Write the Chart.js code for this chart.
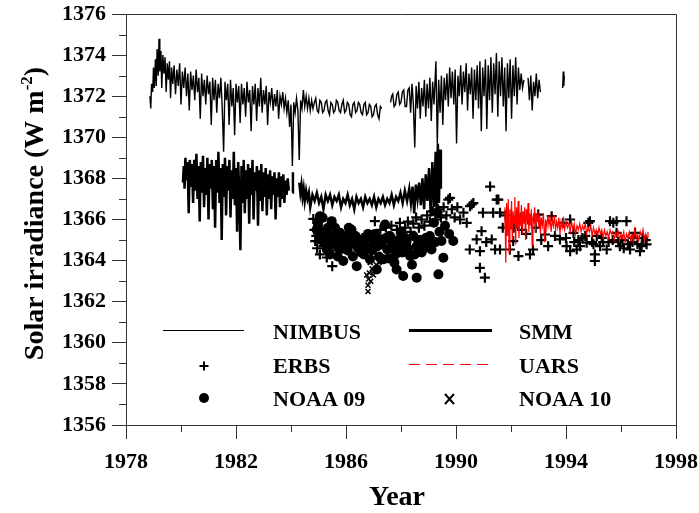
<!DOCTYPE html>
<html>
<head>
<meta charset="utf-8">
<script src="https://cdn.jsdelivr.net/npm/chart.js@4/dist/chart.umd.min.js"></script>
<style>
html,body{margin:0;padding:0;background:#fff;}
canvas{display:block;}
</style>
</head>
<body>
<canvas id="c" width="699" height="513"></canvas>
<script>
// ---------- data ----------
const xTickLabels = ['1978','1982','1986','1990','1994','1998'];
const yTickLabels = ['1356','1358','1360','1362','1364','1366','1368','1370','1372','1374','1376'];
const seriesNames = ['NIMBUS','SMM','ERBS','UARS','NOAA 09','NOAA 10'];

const nimbus = [
[1978.87,1372.0],[1978.90,1371.4],[1978.93,1372.6],[1978.97,1372.2],[1979.00,1373.4],[1979.03,1372.4],[1979.07,1373.8],[1979.10,1372.5],
[1979.13,1374.3],[1979.17,1373.0],[1979.20,1374.8],[1979.23,1373.2],[1979.27,1374.2],[1979.30,1372.4],[1979.34,1374.0],[1979.38,1373.1],
[1979.42,1373.9],[1979.46,1372.2],[1979.50,1373.6],[1979.54,1372.8],[1979.58,1373.7],[1979.62,1371.9],[1979.66,1373.4],[1979.70,1372.6],
[1979.75,1373.5],[1979.80,1372.1],[1979.85,1373.3],[1979.90,1372.5],[1979.95,1373.6],[1980.00,1371.6],[1980.05,1373.2],[1980.10,1372.4],
[1980.15,1373.4],[1980.20,1372.0],[1980.25,1373.1],[1980.30,1371.3],[1980.35,1373.2],[1980.40,1372.3],[1980.45,1373.0],[1980.50,1371.8],
[1980.55,1373.3],[1980.60,1372.2],[1980.65,1372.9],[1980.70,1370.9],[1980.75,1373.1],[1980.80,1372.0],[1980.85,1372.8],[1980.90,1371.6],
[1980.95,1373.0],[1981.00,1372.1],[1981.05,1372.7],[1981.10,1370.6],[1981.15,1372.9],[1981.20,1371.8],[1981.25,1372.8],[1981.30,1371.2],
[1981.35,1372.6],[1981.40,1371.9],[1981.45,1372.9],[1981.50,1371.4],[1981.55,1369.3],[1981.60,1372.7],[1981.65,1371.8],[1981.70,1372.6],
[1981.75,1370.6],[1981.80,1372.8],[1981.85,1371.5],[1981.90,1372.4],[1981.95,1370.1],[1982.00,1372.6],[1982.05,1371.7],[1982.10,1372.5],
[1982.15,1370.7],[1982.20,1372.6],[1982.25,1371.6],[1982.30,1372.4],[1982.35,1371.0],[1982.40,1372.7],[1982.45,1371.7],[1982.50,1372.3],
[1982.55,1370.3],[1982.60,1372.5],[1982.65,1371.6],[1982.70,1372.6],[1982.75,1370.8],[1982.80,1372.4],[1982.85,1371.5],[1982.90,1372.9],
[1982.95,1371.2],[1983.00,1372.3],[1983.05,1371.6],[1983.10,1372.5],[1983.15,1370.6],[1983.20,1372.2],[1983.25,1371.7],[1983.30,1372.4],
[1983.35,1371.3],[1983.40,1372.1],[1983.45,1371.5],[1983.50,1372.3],[1983.55,1370.9],[1983.60,1372.0],[1983.65,1371.6],[1983.70,1372.2],
[1983.75,1371.4],[1983.80,1371.9],[1983.85,1371.2],[1983.90,1371.8],[1983.95,1370.5],[1984.00,1371.6],[1984.05,1368.6],[1984.10,1371.7],
[1984.15,1371.2],[1984.20,1371.9],[1984.25,1371.3],[1984.30,1368.9],[1984.35,1371.8],[1984.40,1371.4],[1984.45,1372.3],[1984.50,1371.5],
[1984.55,1372.0],[1984.60,1371.4],[1984.65,1371.9],[1984.70,1371.3],[1984.75,1371.8],[1984.80,1371.4],[1984.85,1371.7],[1984.90,1371.9],
[1984.95,1371.3],[1985.00,1371.2],[1985.05,1371.8],[1985.10,1371.7],[1985.15,1371.2],[1985.20,1371.3],[1985.25,1371.7],[1985.30,1371.8],
[1985.35,1371.3],[1985.40,1371.1],[1985.45,1371.7],[1985.50,1371.6],[1985.55,1371.2],[1985.60,1371.3],[1985.65,1371.8],[1985.70,1371.7],
[1985.75,1371.3],[1985.80,1371.2],[1985.85,1371.6],[1985.90,1371.8],[1985.95,1371.2],[1986.00,1371.3],[1986.05,1371.7],[1986.10,1371.6],
[1986.15,1371.1],[1986.20,1371.0],[1986.25,1371.6],[1986.30,1371.7],[1986.35,1371.2],[1986.40,1371.3],[1986.45,1371.7],[1986.50,1371.6],
[1986.55,1371.2],[1986.60,1371.1],[1986.65,1371.6],[1986.70,1371.7],[1986.75,1371.1],[1986.80,1371.2],[1986.85,1371.6],[1986.90,1371.5],
[1986.95,1371.0],[1987.00,1371.1],[1987.05,1371.5],[1987.10,1371.6],[1987.15,1371.1],[1987.20,1370.9],[1987.25,1371.5],[1987.30,1371.4],
[1987.45,null],
[1987.62,1371.7],[1987.66,1372.0],[1987.70,1372.1],[1987.75,1371.5],[1987.80,1371.6],[1987.85,1372.1],[1987.90,1372.2],[1987.95,1371.6],
[1988.00,1371.7],[1988.05,1372.2],[1988.10,1372.3],[1988.15,1371.5],[1988.20,1371.5],[1988.25,1372.3],[1988.30,1372.4],
[1988.35,1371.2],[1988.40,1372.6],[1988.45,1371.6],[1988.50,1369.5],[1988.55,1372.5],[1988.60,1371.4],[1988.65,1372.7],[1988.70,1370.9],
[1988.75,1372.4],[1988.80,1371.5],[1988.85,1372.8],[1988.90,1371.0],[1988.95,1372.6],[1989.00,1371.4],[1989.05,1372.9],[1989.10,1370.8],
[1989.15,1372.7],[1989.20,1371.6],[1989.27,1373.7],[1989.32,1369.7],[1989.37,1372.8],[1989.42,1371.2],[1989.47,1373.0],[1989.52,1370.6],
[1989.57,1372.9],[1989.62,1371.8],[1989.67,1373.1],[1989.72,1371.5],[1989.77,1373.4],[1989.82,1371.9],[1989.87,1373.2],[1989.92,1371.6],
[1989.97,1373.3],[1990.02,1369.7],[1990.07,1373.0],[1990.12,1372.0],[1990.17,1373.5],[1990.22,1371.6],[1990.27,1373.2],[1990.32,1372.2],
[1990.37,1373.6],[1990.42,1371.3],[1990.47,1373.1],[1990.52,1372.1],[1990.57,1373.4],[1990.62,1370.9],[1990.67,1373.3],[1990.72,1371.8],
[1990.77,1373.5],[1990.82,1371.4],[1990.87,1373.7],[1990.92,1370.3],[1990.97,1373.4],[1991.02,1372.0],[1991.07,1373.8],[1991.12,1370.4],
[1991.17,1373.5],[1991.22,1371.8],[1991.27,1373.9],[1991.32,1371.2],[1991.37,1373.6],[1991.42,1372.1],[1991.47,1374.1],[1991.52,1371.0],
[1991.57,1373.7],[1991.62,1372.0],[1991.67,1373.9],[1991.72,1371.5],[1991.77,1373.4],[1991.82,1370.3],[1991.87,1373.6],[1991.92,1371.9],
[1991.97,1373.8],[1992.02,1370.9],[1992.07,1373.5],[1992.12,1372.0],[1992.17,1373.9],[1992.22,1371.6],[1992.27,1373.4],[1992.32,1372.3],
[1992.37,1373.1],[1992.42,1372.4],[1992.47,1372.8],[1992.55,null],[1992.62,1372.9],[1992.67,1371.8],[1992.72,1373.0],[1992.77,1371.3],
[1992.82,1372.7],[1992.87,1372.0],[1992.92,1373.1],[1992.97,1371.9],[1993.02,1372.8],[1993.07,1372.2],[1993.50,null],
[1993.88,1372.4],[1993.90,1373.2],[1993.92,1372.5],[1993.94,1373.0]
];

const smm = [
[1980.07,1367.8],[1980.10,1368.6],[1980.13,1367.5],[1980.16,1369.0],[1980.20,1367.9],[1980.24,1368.8],[1980.28,1366.3],[1980.32,1368.9],
[1980.36,1367.6],[1980.40,1368.7],[1980.44,1366.8],[1980.48,1368.9],[1980.52,1367.4],[1980.56,1369.2],[1980.60,1367.0],[1980.64,1368.6],
[1980.68,1365.9],[1980.72,1368.8],[1980.76,1367.3],[1980.80,1369.1],[1980.84,1366.6],[1980.88,1368.5],[1980.92,1367.2],[1980.96,1369.0],
[1981.00,1366.0],[1981.04,1368.7],[1981.08,1367.5],[1981.12,1368.9],[1981.16,1366.5],[1981.20,1368.6],[1981.24,1365.6],[1981.28,1368.9],
[1981.32,1367.3],[1981.36,1369.3],[1981.40,1366.8],[1981.44,1368.5],[1981.48,1365.0],[1981.52,1368.7],[1981.56,1367.1],[1981.60,1369.0],
[1981.64,1366.2],[1981.68,1368.6],[1981.72,1367.4],[1981.76,1368.9],[1981.80,1366.1],[1981.84,1368.4],[1981.88,1367.0],[1981.92,1369.3],
[1981.96,1366.7],[1982.00,1368.5],[1982.04,1365.4],[1982.08,1368.8],[1982.12,1367.2],[1982.16,1364.5],[1982.20,1368.6],[1982.24,1366.8],
[1982.28,1368.9],[1982.32,1366.3],[1982.36,1368.4],[1982.40,1367.0],[1982.44,1368.7],[1982.48,1365.8],[1982.52,1368.5],[1982.56,1367.2],
[1982.60,1368.9],[1982.64,1366.0],[1982.68,1368.3],[1982.72,1367.4],[1982.76,1368.6],[1982.80,1365.7],[1982.84,1368.4],[1982.88,1366.9],
[1982.92,1368.7],[1982.96,1366.4],[1983.00,1368.3],[1983.04,1367.1],[1983.08,1368.5],[1983.12,1366.2],[1983.16,1368.2],[1983.20,1367.0],
[1983.24,1368.4],[1983.28,1366.5],[1983.32,1368.1],[1983.36,1367.2],[1983.40,1368.3],[1983.44,1366.0],[1983.48,1368.0],[1983.52,1367.1],
[1983.56,1368.3],[1983.60,1366.6],[1983.64,1368.1],[1983.68,1367.0],[1983.72,1368.2],[1983.76,1366.8],[1983.80,1367.9],[1983.84,1367.2],
[1983.88,1368.0],[1983.92,1367.4],[1984.00,null],[1984.06,1367.3],[1984.07,1368.3],[1984.15,null],
[1984.30,1367.8],[1984.34,1367.3],[1984.38,1367.7],[1984.42,1367.1],[1984.46,1367.5],[1984.50,1366.9],[1984.55,1367.4],[1984.60,1367.0],
[1984.65,1367.3],[1984.70,1366.6],[1984.78,1367.2],[1984.86,1366.9],[1984.94,1367.3],[1985.02,1366.8],[1985.10,1367.1],[1985.18,1366.5],
[1985.26,1367.2],[1985.34,1366.9],[1985.42,1367.2],[1985.50,1366.7],[1985.58,1367.1],[1985.66,1366.9],[1985.74,1367.2],[1985.82,1366.6],
[1985.90,1367.0],[1985.98,1366.8],[1986.06,1367.2],[1986.14,1366.7],[1986.22,1367.0],[1986.30,1366.5],[1986.38,1367.1],[1986.46,1366.8],
[1986.54,1367.0],[1986.62,1366.6],[1986.70,1367.1],[1986.78,1366.8],[1986.86,1367.0],[1986.94,1366.7],[1987.02,1367.1],[1987.10,1366.6],
[1987.18,1367.0],[1987.26,1366.8],[1987.34,1367.1],[1987.42,1366.7],[1987.50,1367.0],[1987.58,1366.8],[1987.66,1367.2],[1987.74,1366.7],
[1987.82,1367.1],[1987.90,1366.9],[1987.98,1367.3],[1988.06,1366.8],[1988.14,1367.4],[1988.22,1366.9],[1988.30,1367.5],[1988.36,1366.8],
[1988.42,1367.6],[1988.48,1366.3],[1988.54,1367.7],[1988.60,1367.0],[1988.66,1367.8],[1988.72,1366.7],[1988.78,1368.0],[1988.84,1366.5],
[1988.90,1368.2],[1988.96,1366.9],[1989.02,1368.5],[1989.08,1366.2],[1989.14,1368.8],[1989.20,1366.6],[1989.26,1369.3],[1989.30,1366.4],
[1989.34,1369.7],[1989.38,1366.8],[1989.42,1369.4],[1989.45,1367.5]
];

const uars = [
[1991.75,1365.6],[1991.78,1366.6],[1991.81,1363.9],[1991.84,1366.8],[1991.87,1365.2],[1991.90,1367.0],[1991.93,1364.4],[1991.96,1366.5],
[1991.99,1365.5],[1992.02,1366.9],[1992.05,1365.0],[1992.08,1366.4],[1992.11,1365.8],[1992.14,1367.1],[1992.17,1364.8],[1992.20,1366.6],
[1992.23,1365.6],[1992.26,1366.9],[1992.29,1365.1],[1992.32,1366.3],[1992.35,1365.7],[1992.38,1366.7],[1992.41,1365.3],[1992.44,1366.4],
[1992.47,1365.8],[1992.50,1366.6],[1992.53,1365.0],[1992.56,1366.5],[1992.59,1365.9],[1992.62,1366.8],[1992.65,1365.4],[1992.68,1366.3],
[1992.71,1365.7],[1992.74,1366.5],[1992.77,1364.7],[1992.80,1366.2],[1992.83,1365.8],[1992.86,1366.6],[1992.89,1365.4],[1992.92,1366.3],
[1992.95,1365.9],[1992.98,1366.4],[1993.01,1365.6],[1993.04,1366.2],[1993.07,1365.3],[1993.10,1366.1],[1993.14,1365.7],[1993.18,1366.3],
[1993.22,1364.9],[1993.26,1366.0],[1993.30,1365.6],[1993.34,1366.2],[1993.38,1365.7],[1993.42,1366.1],[1993.46,1365.4],[1993.50,1366.0],
[1993.54,1365.7],[1993.58,1366.2],[1993.62,1365.5],[1993.66,1365.9],[1993.70,1365.6],[1993.74,1366.1],[1993.78,1365.3],[1993.82,1365.9],
[1993.86,1365.6],[1993.90,1366.0],[1993.95,1365.5],[1994.00,1365.9],[1994.05,1365.6],[1994.10,1365.8],[1994.15,1365.4],[1994.20,1365.9],
[1994.25,1365.5],[1994.30,1365.8],[1994.35,1365.3],[1994.40,1365.7],[1994.45,1365.5],[1994.50,1365.8],[1994.55,1365.4],[1994.60,1365.7],
[1994.65,1365.5],[1994.70,1365.8],[1994.75,1365.3],[1994.80,1365.6],[1994.85,1365.4],[1994.90,1365.7],[1994.95,1365.2],[1995.00,1365.6],
[1995.05,1365.3],[1995.10,1365.5],[1995.15,1365.2],[1995.20,1365.6],[1995.25,1365.3],[1995.30,1365.5],[1995.35,1365.1],[1995.40,1365.5],
[1995.45,1365.2],[1995.50,1365.4],[1995.55,1365.1],[1995.60,1365.5],[1995.65,1365.3],[1995.70,1365.4],[1995.75,1365.0],[1995.80,1365.4],
[1995.85,1365.2],[1995.90,1365.4],[1995.95,1365.0],[1996.00,1365.3],[1996.05,1365.1],[1996.10,1365.4],[1996.15,1364.9],[1996.20,1365.3],
[1996.25,1365.1],[1996.30,1365.4],[1996.35,1365.0],[1996.40,1365.3],[1996.45,1364.9],[1996.50,1365.5],[1996.55,1365.1],[1996.60,1365.3],
[1996.65,1365.0],[1996.70,1365.4],[1996.75,1365.2],[1996.80,1365.5],[1996.85,1365.0],[1996.90,1365.3],[1996.95,1365.1],[1996.98,1365.4]
];

const erbs = [
[1984.81,1366.03],[1984.85,1365.5],[1984.88,1364.95],[1984.92,1365.2],[1984.95,1364.6],[1985.00,1365.7],[1985.05,1364.3],[1985.10,1365.0],
[1985.18,1364.7],[1985.25,1365.4],[1985.30,1364.15],[1985.35,1365.1],[1985.45,1364.5],[1985.50,1363.73],[1985.60,1364.9],[1985.70,1365.3],
[1985.80,1364.4],[1985.90,1365.0],[1986.00,1364.6],[1986.10,1365.2],[1986.20,1364.3],[1986.30,1364.9],[1986.45,1364.5],[1986.60,1365.1],
[1986.75,1364.8],[1986.90,1365.2],[1987.05,1365.92],[1987.15,1365.1],[1987.25,1365.5],[1987.35,1364.9],[1987.45,1365.6],[1987.55,1365.2],
[1987.65,1365.7],[1987.75,1365.0],[1987.85,1365.5],[1987.96,1365.84],[1988.07,1365.27],[1988.15,1365.6],[1988.25,1365.9],[1988.35,1365.4],
[1988.45,1365.8],[1988.55,1366.1],[1988.65,1365.6],[1988.75,1366.0],[1988.85,1365.7],[1988.95,1366.2],[1989.05,1365.9],[1989.15,1366.4],
[1989.25,1366.0],[1989.35,1366.5],[1989.45,1366.1],[1989.55,1366.6],[1989.65,1366.2],[1989.72,1366.97],[1989.78,1367.05],[1989.85,1366.5],
[1989.95,1366.1],[1990.05,1366.6],[1990.15,1366.0],[1990.27,1366.33],[1990.39,1365.84],[1990.51,1366.65],[1990.57,1366.73],[1990.63,1366.8],
[1990.50,1364.54],[1990.75,1365.03],[1990.87,1364.46],[1990.93,1365.43],[1990.98,1366.33],[1991.10,1364.9],[1990.87,1363.65],[1991.05,1363.17],
[1991.24,1367.6],[1991.30,1365.03],[1991.35,1366.33],[1991.42,1364.54],[1991.48,1366.97],[1991.54,1366.97],[1991.60,1366.33],[1991.60,1364.54],
[1991.70,1365.6],[1991.80,1366.2],[1991.96,1364.54],[1992.08,1364.95],[1992.10,1365.6],[1992.20,1365.8],[1992.27,1364.22],[1992.35,1366.1],
[1992.40,1365.5],[1992.55,1365.3],[1992.63,1366.0],[1992.69,1364.3],[1992.80,1364.54],[1992.90,1365.6],[1992.99,1366.24],[1993.10,1365.0],
[1993.24,1365.27],[1993.35,1364.7],[1993.48,1366.16],[1993.60,1365.2],[1993.78,1365.03],[1993.90,1365.84],[1994.00,1365.1],[1994.02,1364.7],
[1994.15,1366.0],[1994.15,1364.46],[1994.27,1365.35],[1994.30,1364.9],[1994.39,1364.54],[1994.45,1365.0],[1994.51,1364.7],[1994.60,1365.1],
[1994.70,1365.2],[1994.75,1364.87],[1994.81,1365.84],[1994.87,1365.92],[1994.95,1364.9],[1995.00,1364.8],[1995.05,1364.3],[1995.05,1363.98],
[1995.12,1365.2],[1995.24,1364.7],[1995.30,1365.1],[1995.35,1364.9],[1995.48,1364.54],[1995.55,1364.9],[1995.60,1365.92],[1995.70,1365.0],
[1995.72,1365.84],[1995.84,1365.35],[1995.84,1365.92],[1995.90,1364.9],[1995.96,1364.7],[1996.05,1365.0],[1996.10,1364.6],[1996.20,1365.92],
[1996.25,1364.8],[1996.33,1364.54],[1996.42,1364.9],[1996.45,1365.1],[1996.51,1365.35],[1996.60,1364.8],[1996.69,1364.46],[1996.75,1364.7],
[1996.80,1365.1],[1996.90,1365.0],[1996.93,1364.79]
];

const noaa09 = [
[1984.93,1365.5],[1985.05,1366.16],[1985.05,1365.03],[1985.15,1366.08],[1985.25,1365.3],[1985.30,1364.54],[1985.40,1365.0],[1985.48,1365.92],
[1985.50,1364.8],[1985.60,1365.6],[1985.70,1364.2],[1985.78,1365.35],[1985.90,1363.98],[1985.95,1364.9],[1986.00,1365.2],[1986.15,1364.95],
[1986.20,1365.5],[1986.30,1364.8],[1986.39,1363.73],[1986.47,1365.03],[1986.55,1364.4],[1986.70,1364.7],[1986.80,1365.3],[1986.87,1364.06],
[1987.00,1364.9],[1987.12,1363.57],[1987.24,1365.03],[1987.35,1364.06],[1987.42,1365.76],[1987.50,1364.54],[1987.65,1364.9],[1987.76,1363.9],
[1987.80,1364.3],[1987.84,1363.57],[1987.96,1364.7],[1988.00,1365.4],[1988.08,1363.25],[1988.20,1364.9],[1988.33,1364.22],[1988.40,1363.8],
[1988.45,1365.19],[1988.57,1364.7],[1988.57,1363.17],[1988.70,1365.0],[1988.85,1364.6],[1988.96,1364.8],[1989.11,1364.54],[1989.20,1365.84],
[1989.33,1366.33],[1989.36,1363.33],[1989.47,1364.95],[1989.54,1364.14],[1989.75,1365.3],[1989.90,1364.95],
[1984.98,1365.8],[1985.10,1365.4],[1985.20,1364.9],[1985.35,1365.6],[1985.42,1364.3],[1985.55,1365.2],[1985.65,1364.9],[1985.75,1364.6],
[1985.85,1365.1],[1986.05,1364.5],[1986.10,1365.6],[1986.25,1364.2],[1986.35,1365.2],[1986.45,1364.6],[1986.60,1365.0],[1986.65,1364.3],
[1986.75,1365.1],[1986.95,1364.5],[1987.05,1365.3],[1987.15,1364.7],[1987.20,1364.2],[1987.30,1364.8],[1987.45,1365.1],[1987.55,1364.1],
[1987.60,1365.2],[1987.70,1364.6],[1987.90,1365.0],[1988.05,1364.4],[1988.15,1365.1],[1988.25,1364.6],[1988.50,1364.3],[1988.62,1365.0],
[1988.75,1364.4],[1988.90,1365.1],[1989.05,1365.2],[1989.25,1364.9],[1989.40,1365.4],[1989.60,1365.7]
];

const noaa10 = [
[1986.75,1363.3],[1986.80,1362.5],[1986.80,1362.8],[1986.82,1363.1],[1986.85,1363.4],[1986.88,1363.9],[1986.90,1363.0],[1986.95,1363.6],
[1987.00,1363.3],[1987.05,1363.5],[1987.10,1363.8],[1987.15,1363.6],[1987.20,1363.9],[1987.30,1364.1]
];

// ---------- chart ----------
const toXY = a => a.map(p => ({x: p[0], y: p[1]}));
const SERIF = '"Liberation Serif","Times New Roman",serif';

const extras = {
  id: 'extras',
  afterDraw(chart) {
    const c = chart.ctx, xs = chart.scales.x, ys = chart.scales.y, a = chart.chartArea;
    c.save();
    // frame top and right
    c.strokeStyle = '#333'; c.lineWidth = 1;
    c.beginPath();
    c.moveTo(a.left, a.top + 0.5); c.lineTo(a.right + 0.5, a.top + 0.5); c.lineTo(a.right + 0.5, a.bottom);
    c.stroke();
    // minor ticks
    c.beginPath();
    for (let v = 1357; v < 1376; v += 2) {
      const py = Math.round(ys.getPixelForValue(v)) + 0.5;
      c.moveTo(a.left - 7, py); c.lineTo(a.left, py);
    }
    for (let v = 1980; v < 1998; v += 4) {
      const px = Math.round(xs.getPixelForValue(v)) + 0.5;
      c.moveTo(px, a.bottom); c.lineTo(px, a.bottom + 7);
    }
    c.stroke();

    // axis titles
    c.fillStyle = '#000';
    c.font = 'bold 28px ' + SERIF;
    c.textAlign = 'center'; c.textBaseline = 'alphabetic';
    c.fillText('Year', (a.left + a.right) / 2 - 4, 505);
    c.save();
    c.translate(43, (a.top + a.bottom) / 2 - 6);
    c.rotate(-Math.PI / 2);
    const main = 'Solar irradiance (W m', sup = '-2', end = ')';
    c.font = 'bold 28px ' + SERIF;
    const w1 = c.measureText(main).width, w3 = c.measureText(end).width;
    c.font = 'bold 17px ' + SERIF;
    const w2 = c.measureText(sup).width;
    let sx = -(w1 + w2 + w3) / 2;
    c.textAlign = 'left';
    c.font = 'bold 28px ' + SERIF;
    c.fillText(main, sx, 0);
    c.font = 'bold 17px ' + SERIF;
    c.fillText(sup, sx + w1, -11);
    c.font = 'bold 28px ' + SERIF;
    c.fillText(end, sx + w1 + w2, 0);
    c.restore();

    // legend
    const rows = [332, 366, 399];
    c.font = 'bold 22px ' + SERIF;
    c.textAlign = 'left'; c.textBaseline = 'middle';
    c.fillText(seriesNames[0], 273, rows[0] + 1);
    c.fillText(seriesNames[1], 519, rows[0] + 1);
    c.fillText(seriesNames[2], 273, rows[1] + 1);
    c.fillText(seriesNames[3], 519, rows[1] + 1);
    c.fillText(seriesNames[4], 273, rows[2] + 1);
    c.fillText(seriesNames[5], 519, rows[2] + 1);
    c.strokeStyle = '#000';
    c.lineWidth = 1;
    c.beginPath(); c.moveTo(163, rows[0] - 1.5); c.lineTo(244, rows[0] - 1.5); c.stroke();
    c.lineWidth = 3;
    c.beginPath(); c.moveTo(409, rows[0] - 1.5); c.lineTo(492, rows[0] - 1.5); c.stroke();
    c.strokeStyle = '#ff0000'; c.lineWidth = 1; c.setLineDash([11, 6]);
    c.beginPath(); c.moveTo(409, rows[1] - 1.5); c.lineTo(492, rows[1] - 1.5); c.stroke();
    c.setLineDash([]);
    c.strokeStyle = '#000'; c.lineWidth = 2;
    c.beginPath(); c.moveTo(199.5, rows[1]); c.lineTo(208.5, rows[1]); c.moveTo(204, rows[1] - 4.5); c.lineTo(204, rows[1] + 4.5); c.stroke();
    c.beginPath(); c.arc(204, rows[2] - 1, 5, 0, Math.PI * 2); c.fill();
    c.lineWidth = 2;
    c.beginPath(); c.moveTo(445, rows[2] - 5); c.lineTo(454, rows[2] + 5); c.moveTo(454, rows[2] - 5); c.lineTo(445, rows[2] + 5); c.stroke();
    c.restore();
  }
};

new Chart(document.getElementById('c'), {
  type: 'scatter',
  data: {
    datasets: [
      { label: seriesNames[3], data: toXY(uars), showLine: true, spanGaps: false, borderColor: '#ff0000', borderWidth: 1.2, pointRadius: 0 },
      { label: seriesNames[0], data: toXY(nimbus), showLine: true, spanGaps: false, borderColor: '#000', borderWidth: 1.4, pointRadius: 0 },
      { label: seriesNames[1], data: toXY(smm), showLine: true, spanGaps: false, borderColor: '#000', borderWidth: 2.5, pointRadius: 0 },
      { label: seriesNames[2], data: toXY(erbs), showLine: false, pointStyle: 'cross', pointRadius: 5, borderColor: '#000', borderWidth: 2.2 },
      { label: seriesNames[4], data: toXY(noaa09), showLine: false, pointStyle: 'circle', pointRadius: 5, backgroundColor: '#000', borderColor: '#000', borderWidth: 0 },
      { label: seriesNames[5], data: toXY(noaa10), showLine: false, pointStyle: 'crossRot', pointRadius: 3.5, borderColor: '#000', borderWidth: 1.5 }
    ]
  },
  options: {
    responsive: false,
    animation: false,
    events: [],
    layout: { padding: { top: 14, right: 23, left: 0, bottom: 0 } },
    plugins: { legend: { display: false }, tooltip: { enabled: false } },
    scales: {
      x: {
        type: 'linear', min: 1978, max: 1998,
        afterBuildTicks: s => { s.ticks = xTickLabels.map(t => ({ value: +t })); },
        ticks: { callback: (v, i) => xTickLabels[i], color: '#000', font: { family: SERIF, size: 22, weight: 'bold' }, padding: 10, maxRotation: 0, autoSkip: false },
        grid: { drawOnChartArea: false, tickLength: 14, tickColor: '#333', tickWidth: 1 },
        border: { color: '#333', width: 1 },
        afterFit: s => { s.height = 88; s.paddingLeft = 0; s.paddingRight = 0; }
      },
      y: {
        type: 'linear', min: 1356, max: 1376,
        afterBuildTicks: s => { s.ticks = yTickLabels.map(t => ({ value: +t })); },
        ticks: { callback: (v, i) => yTickLabels[i], color: '#000', font: { family: SERIF, size: 22, weight: 'bold' }, padding: 6, autoSkip: false },
        grid: { drawOnChartArea: false, tickLength: 14, tickColor: '#333', tickWidth: 1 },
        border: { color: '#333', width: 1 },
        afterFit: s => { s.width = 126; s.paddingTop = 0; s.paddingBottom = 0; }
      }
    }
  },
  plugins: [extras]
});
</script>
</body>
</html>
